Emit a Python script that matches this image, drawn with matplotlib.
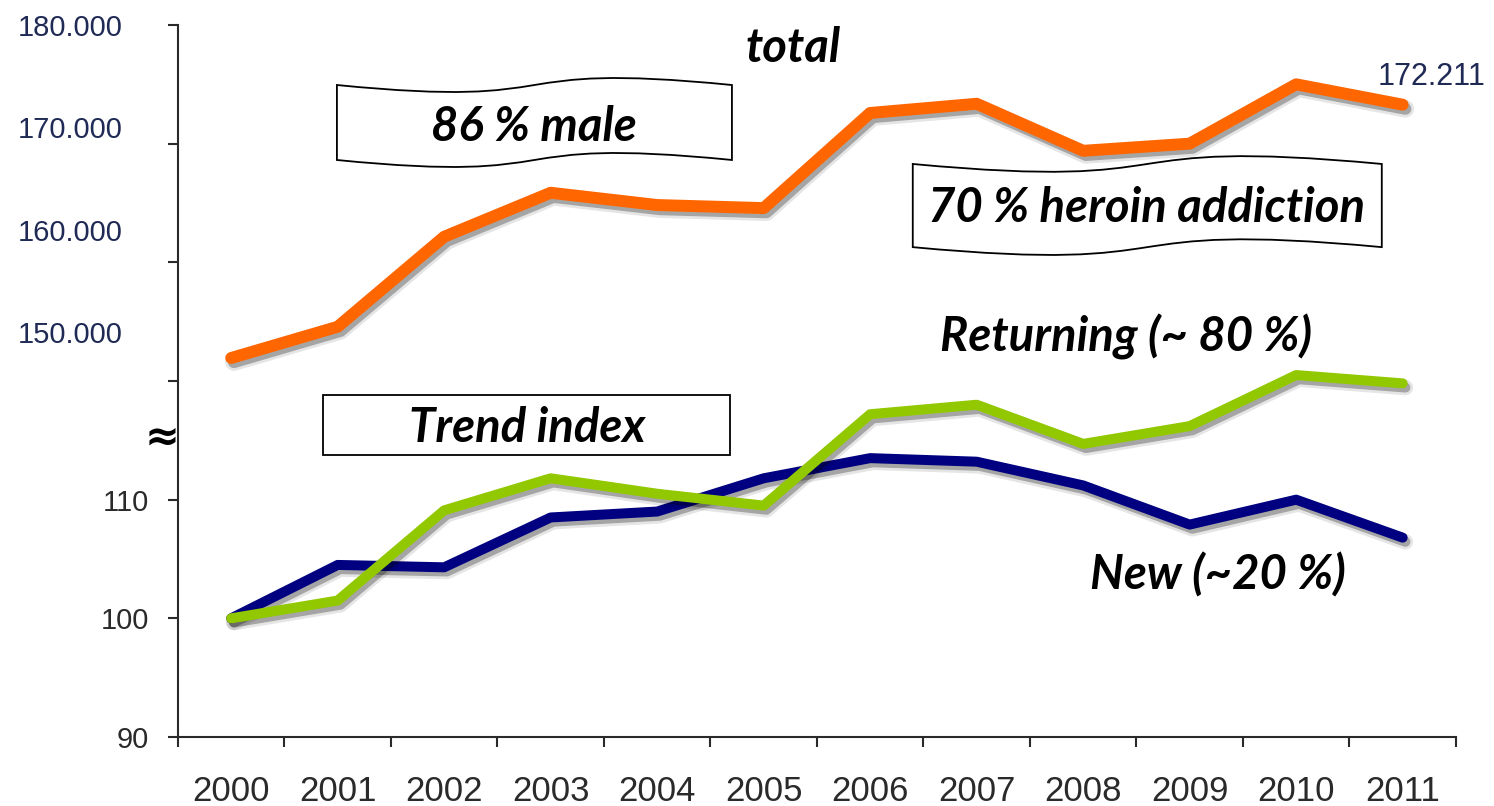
import numpy as np
import matplotlib
matplotlib.use('Agg')
import matplotlib.pyplot as plt
import matplotlib.ticker as ticker
import matplotlib.patheffects as pe
from matplotlib.path import Path
from matplotlib.patches import PathPatch, Rectangle

# Clients in treatment, 2000-2011
years = ['2000', '2001', '2002', '2003', '2004', '2005',
         '2006', '2007', '2008', '2009', '2010', '2011']
total = [147450, 150500, 159300, 163600, 162400, 162100,
         171400, 172300, 167700, 168400, 174200, 172211]
# trend index, 2000 = 100
new_idx = [100, 104.5, 104.3, 108.5, 109.0, 111.8,
           113.5, 113.2, 111.2, 107.9, 110.0, 106.8]
returning_idx = [100, 101.5, 109.1, 111.8, 110.5, 109.5,
                 117.2, 118.0, 114.7, 116.2, 120.5, 119.8]

index_ticks = [90, 100, 110, 120, 130, 140, 150]
index_labels = ['90', '100', '110', '', '', '', '']
total_ticks = [150000, 160000, 170000, 180000]

ORANGE = '#FF6600'
NAVY = '#000080'
GREEN = '#92C800'
LABEL_BLUE = '#1F2A55'
NOTE_FONT = ['Lato', 'Open Sans', 'DejaVu Sans']

plt.rcParams['font.family'] = ['Liberation Sans', 'DejaVu Sans']


def shadow(lw):
    return [pe.SimpleLineShadow(offset=(2, -3), shadow_color='black', alpha=0.10, linewidth=lw + 4),
            pe.SimpleLineShadow(offset=(2, -3), shadow_color='black', alpha=0.28),
            pe.Normal()]


def wave_banner(ax, x0, x1, y_top, y_bot, amp):
    """Wave-shaped banner, top and bottom edges are S-curves (axes fraction)."""
    w = x1 - x0
    verts = [(x0, y_top),
             (x0 + 0.62 * w, y_top - 2 * amp), (x0 + 0.38 * w, y_top + 2 * amp), (x1, y_top),
             (x1, y_bot),
             (x0 + 0.38 * w, y_bot + 2 * amp), (x0 + 0.62 * w, y_bot - 2 * amp), (x0, y_bot),
             (x0, y_top)]
    codes = [Path.MOVETO, Path.CURVE4, Path.CURVE4, Path.CURVE4, Path.LINETO,
             Path.CURVE4, Path.CURVE4, Path.CURVE4, Path.CLOSEPOLY]
    ax.add_patch(PathPatch(Path(verts, codes), transform=ax.transAxes, facecolor='white',
                           edgecolor='black', lw=1.3, zorder=5, clip_on=False))


def note(ax, x, y, s):
    ax.text(x, y, s, transform=ax.transAxes, ha='center', va='center', fontsize=34,
            fontweight='bold', style='italic', family=NOTE_FONT, color='black', zorder=6)


fig = plt.figure(figsize=(14.94, 8.06), dpi=100)
ax = fig.add_axes([0.1191, 0.0856, 0.8554, 0.8834])
ax2 = ax.twinx()

x = np.arange(len(years))

# index lines (lower part)
ax.plot(x, new_idx, color=NAVY, lw=7.2, solid_capstyle='round', solid_joinstyle='round',
        path_effects=shadow(7.2), zorder=3)
ax.plot(x, returning_idx, color=GREEN, lw=7.2, solid_capstyle='round', solid_joinstyle='round',
        path_effects=shadow(7.2), zorder=4)
ax.set_ylim(90, 150)
ax.set_yticks(index_ticks)
ax.set_yticklabels(index_labels)
ax.tick_params(axis='y', length=7, width=1.5, pad=14, labelsize=21, labelcolor=LABEL_BLUE)

# absolute total (upper part)
ax2.plot(x, total, color=ORANGE, lw=8.6, solid_capstyle='round', solid_joinstyle='round',
         path_effects=shadow(8.6), zorder=3)
ax2.set_ylim(110400, 180000)
ax2.yaxis.tick_left()
ax2.set_yticks(total_ticks)
ax2.yaxis.set_major_formatter(ticker.FuncFormatter(lambda v, _: f'{int(v):,}'.replace(',', '.')))
ax2.tick_params(axis='y', length=0, pad=40, labelsize=21, labelcolor=LABEL_BLUE)
for s in ax2.spines.values():
    s.set_visible(False)
ax2.annotate(f'{total[-1]:,}'.replace(',', '.'), xy=(x[-1], total[-1]), xytext=(21, 20),
             textcoords='offset points', ha='center', va='center', fontsize=22,
             color=LABEL_BLUE)

# x axis: ticks between the years, labels centred
ax.set_xlim(-0.5, len(years) - 0.5)
ax.set_xticks(np.arange(-0.5, len(years), 1))
ax.set_xticklabels([])
ax.set_xticks(x, minor=True)
ax.set_xticklabels(years, minor=True)
ax.tick_params(axis='x', which='major', length=7, width=1.5, direction='out')
ax.tick_params(axis='x', which='minor', length=0, pad=27, labelsize=25, labelcolor='#111111')

for side in ('top', 'right'):
    ax.spines[side].set_visible(False)
for side in ('left', 'bottom'):
    ax.spines[side].set_linewidth(1.5)
    ax.spines[side].set_color('#2a2a2a')
ax.tick_params(colors='#2a2a2a', which='both')

# scale break marker
ax.text(-0.0125, 0.42, '≈', transform=ax.transAxes, ha='center', va='center',
        fontsize=30, fontweight='bold', family='DejaVu Sans', color='black', clip_on=False)

# annotation boxes
wave_banner(ax, 0.1244, 0.4335, 0.9157, 0.8104, 0.017)
wave_banner(ax, 0.575, 0.942, 0.8048, 0.688, 0.019)
ax.add_patch(Rectangle((0.1135, 0.396), 0.3185, 0.084, transform=ax.transAxes,
                       facecolor='white', edgecolor='black', lw=1.3, zorder=5))

note(ax, 0.481, 0.968, 'total')
note(ax, 0.2786, 0.857, '86 % male')
note(ax, 0.758, 0.743, '70 % heroin addiction')
note(ax, 0.742, 0.562, 'Returning (~ 80 %)')
note(ax, 0.273, 0.434, 'Trend index')
note(ax, 0.814, 0.2275, 'New (~20 %)')

fig.savefig('out.png', dpi=100)
